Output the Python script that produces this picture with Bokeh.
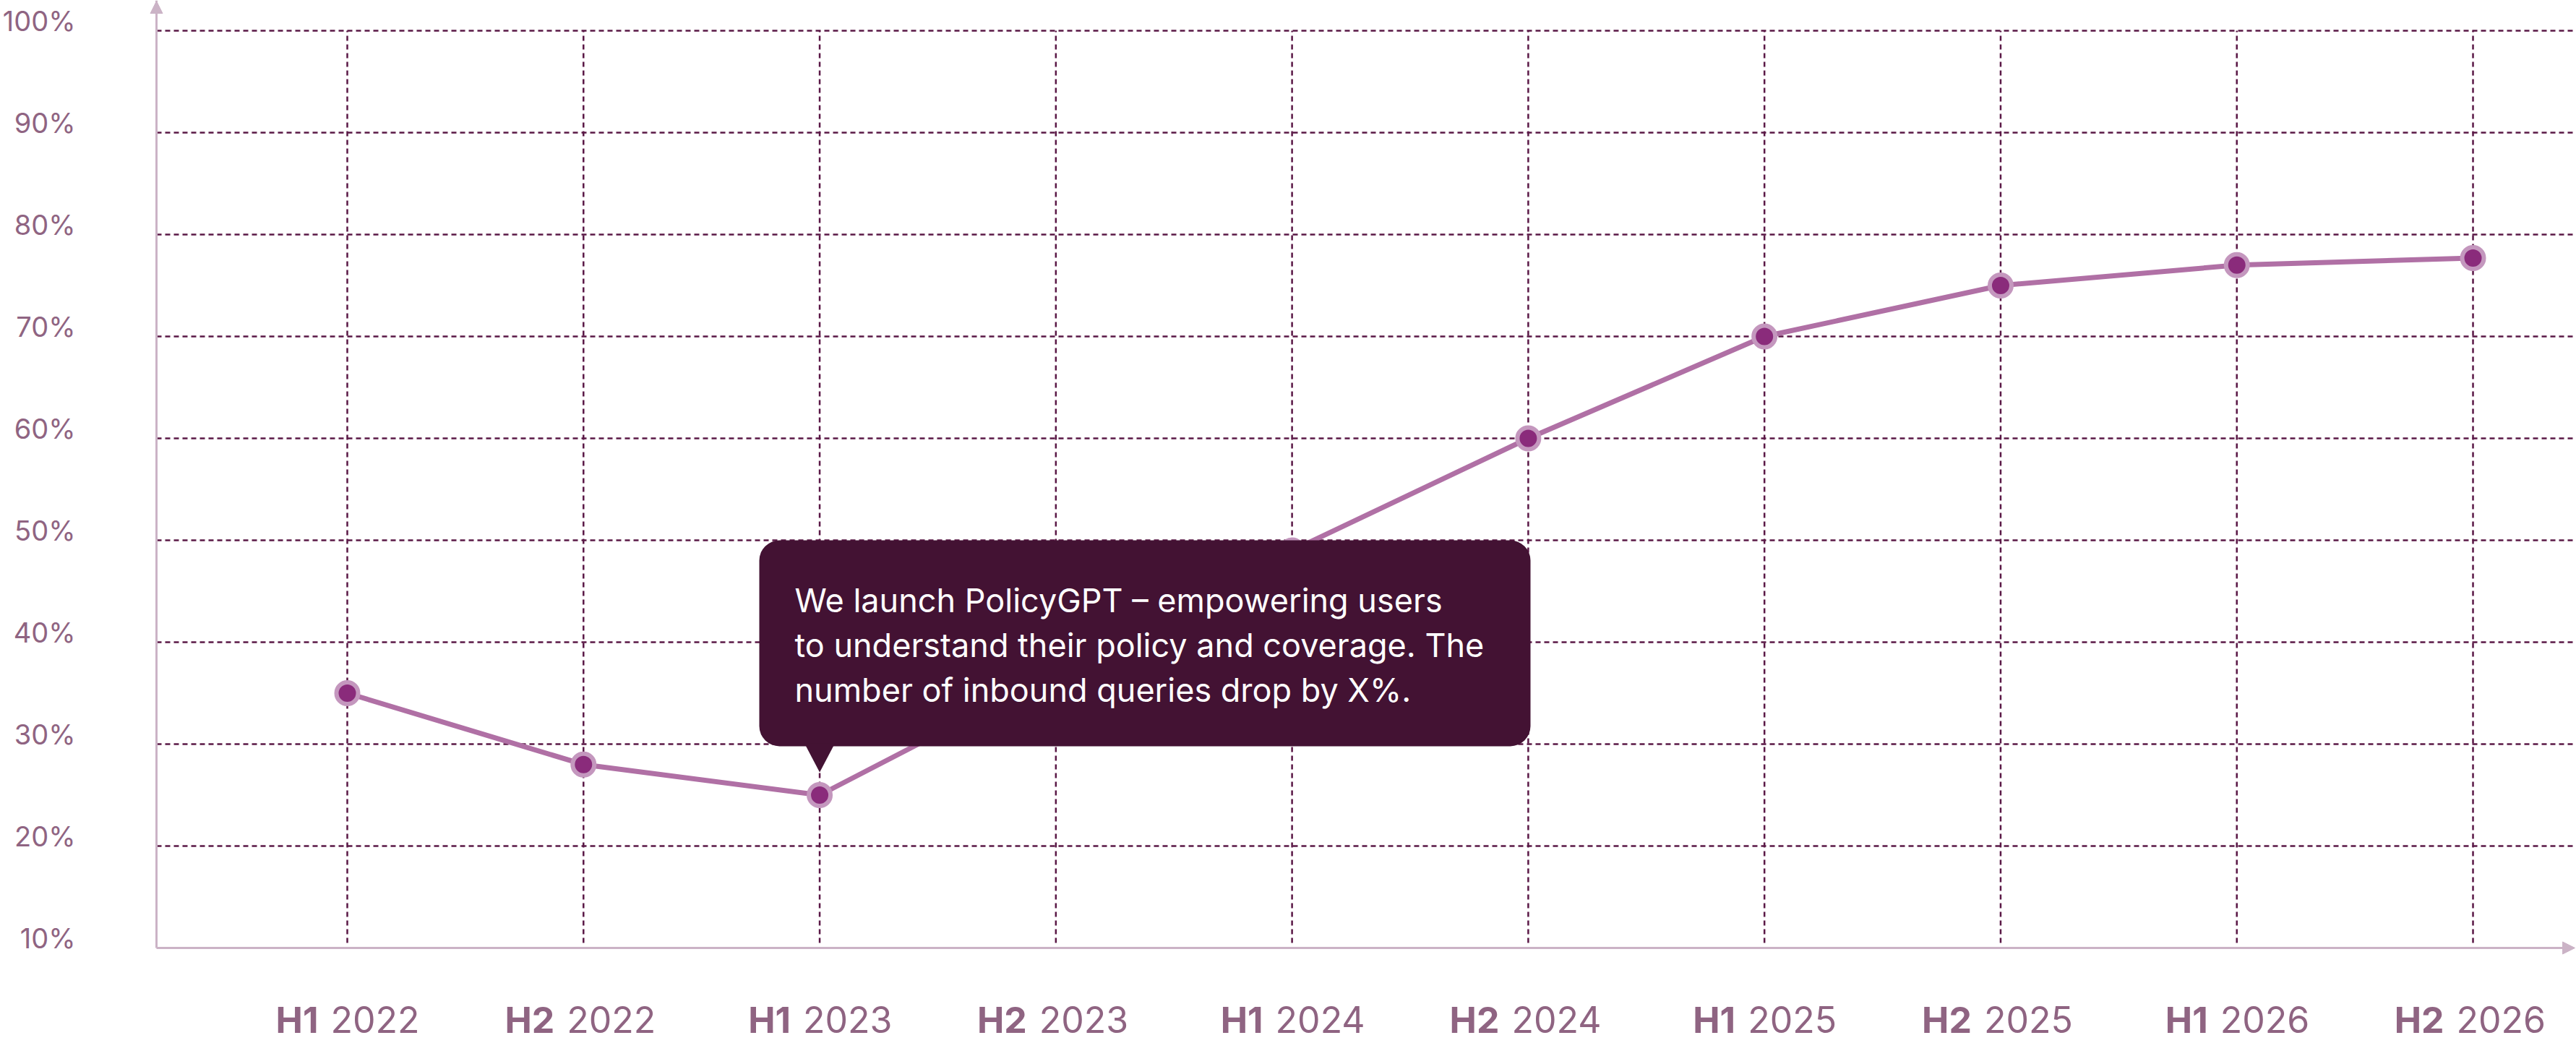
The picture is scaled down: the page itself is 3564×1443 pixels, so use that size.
from bokeh.plotting import figure
from bokeh.models import (Range1d, FixedTicker, ColumnDataSource, LabelSet, Label,
                          BoxAnnotation, PolyAnnotation, Arrow, NormalHead)
from bokeh.embed import file_html
from bokeh.resources import INLINE
from bokeh.core.properties import value

# ---------------- data ----------------
periods = ["H1", "H2", "H1", "H2", "H1", "H2", "H1", "H2", "H1", "H2"]
years = ["2022", "2022", "2023", "2023", "2024", "2024", "2025", "2025", "2026", "2026"]
share = [35, 28, 25, 37, 49, 60, 70, 75, 77, 77.7]
y_ticks = [10, 20, 30, 40, 50, 60, 70, 80, 90, 100]
y_tick_labels = ["10%", "20%", "30%", "40%", "50%", "60%", "70%", "80%", "90%", "100%"]
callout_lines = [
    "We launch PolicyGPT \u2013 empowering users",
    "to understand their policy and coverage. The",
    "number of inbound queries drop by X%.",
]
callout_index = 2

# ---------------- layout (frame = whole canvas) ----------------
W, H = 3564, 1443
x0_px, unit_px = 480, 326.78   # px of first category, px per category
x_start = -x0_px / unit_px
x_end = (W - x0_px) / unit_px
Y10, Y100 = 1311, 42           # px of 10% and 100%
y_px_per = (Y10 - Y100) / 90.0
y_top = 10 + Y10 / y_px_per
y_bot = 10 - (H - Y10) / y_px_per


def dx(px):
    return x_start + px / unit_px


def dy(px):
    return 10 + (Y10 - px) / y_px_per


FONT = "Inter"
LBL = "#8F6482"
AX = "#CBB3C6"
GRID = "#5A1846"
CALL = "#431233"
LINE = "#B070A5"
DOT = "#8A2B7B"
RING = "#C497BE"

idx = list(range(len(share)))
axis_x = dx(216)

p = figure(width=W, height=H, x_range=Range1d(x_start, x_end), y_range=Range1d(y_bot, y_top),
           output_backend="svg", toolbar_location=None,
           min_border_left=0, min_border_right=0, min_border_top=0, min_border_bottom=0)
p.outline_line_color = None
p.background_fill_color = "white"
p.border_fill_color = "white"
p.xgrid.visible = False
p.ygrid.visible = False

# axes (lines only, fixed inside the frame)
p.yaxis.fixed_location = axis_x
p.yaxis.bounds = (10, y_top)
p.xaxis.fixed_location = 10
p.xaxis.bounds = (axis_x, x_end - 8 / unit_px)
for ax in (p.xaxis, p.yaxis):
    ax.ticker = FixedTicker(ticks=[])
    ax.axis_line_color = AX
    ax.axis_line_width = 3
    ax.major_tick_line_color = None
    ax.minor_tick_line_color = None

# grid lines
p.segment(x0=[axis_x] * 9, y0=y_ticks[1:], x1=[x_end] * 9, y1=y_ticks[1:],
          line_color=GRID, line_dash="7 5", line_width=2.5, level="underlay")
p.segment(x0=idx, y0=[dy(1304)] * len(idx), x1=idx, y1=[y_ticks[-1]] * len(idx),
          line_color=GRID, line_dash="7 5", line_width=2.5, level="underlay")

# axis arrow heads
p.add_layout(Arrow(end=NormalHead(size=17, fill_color=AX, line_color=AX, line_width=1),
                   x_start=x_end - 0.2, y_start=10, x_end=x_end - 2 / unit_px, y_end=10,
                   line_alpha=0))
p.add_layout(Arrow(end=NormalHead(size=17, fill_color=AX, line_color=AX, line_width=1),
                   x_start=axis_x, y_start=y_top - 3, x_end=axis_x, y_end=y_top - 1 / y_px_per,
                   line_alpha=0))

# y tick labels (baseline on the grid line)
ysrc = ColumnDataSource(dict(x=[dx(104)] * len(y_ticks), y=y_ticks, text=y_tick_labels))
p.add_layout(LabelSet(x="x", y="y", text="text", source=ysrc, text_align="right",
                      text_baseline="alphabetic", text_font=value(FONT),
                      text_font_size="38px", text_color=LBL))

# x tick labels (bold half + regular year)
src = ColumnDataSource(dict(x=idx, y=[dy(1428)] * len(idx), period=periods, year=years))
p.add_layout(LabelSet(x="x", y="y", text="period", source=src, text_align="right",
                      x_offset=-40, text_font=value(FONT), text_font_style="bold",
                      text_font_size="50px", text_color=LBL, text_baseline="alphabetic"))
p.add_layout(LabelSet(x="x", y="y", text="year", source=src, text_align="left",
                      x_offset=-23, text_font=value(FONT),
                      text_font_size="50px", text_color=LBL, text_baseline="alphabetic"))

# data
p.line(idx, share, line_color=LINE, line_width=7)
p.scatter(idx, share, size=30, fill_color=DOT, line_color=RING, line_width=6)

# callout
p.add_layout(BoxAnnotation(left=dx(1050), right=dx(2117), top=dy(747), bottom=dy(1032),
                           fill_color=CALL, fill_alpha=1, line_color=None, border_radius=28))
half = 21 / unit_px
p.add_layout(PolyAnnotation(xs=[callout_index - half, callout_index + half, callout_index],
                            ys=[dy(1028), dy(1028), dy(1068)],
                            fill_color=CALL, fill_alpha=1, line_color=None))
for i, t in enumerate(callout_lines):
    p.add_layout(Label(x=dx(1099), y=dy(830 + 62 * i), text=t, text_font=FONT,
                       text_font_size="45px", text_color="white", text_baseline="alphabetic"))

open("out.html", "w").write(file_html(p, INLINE))
